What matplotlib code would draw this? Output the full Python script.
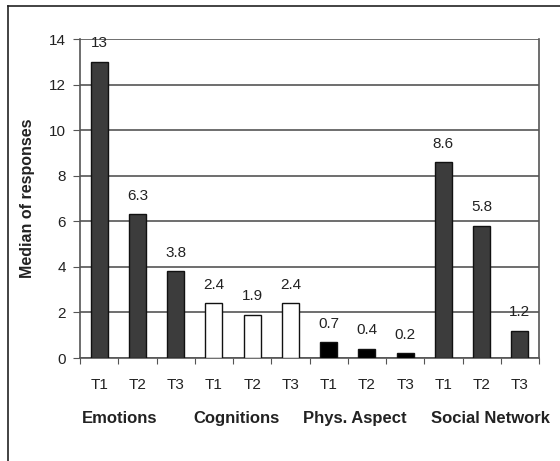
import matplotlib
matplotlib.use("Agg")
import matplotlib.pyplot as plt
from matplotlib.lines import Line2D

plt.rcParams['font.family'] = ['Liberation Sans', 'DejaVu Sans']

groups = ["Emotions", "Cognitions", "Phys. Aspect", "Social Network"]
times = ["T1", "T2", "T3"]
values = [13, 6.3, 3.8, 2.4, 1.9, 2.4, 0.7, 0.4, 0.2, 8.6, 5.8, 1.2]
value_labels = ["13", "6.3", "3.8", "2.4", "1.9", "2.4", "0.7", "0.4", "0.2", "8.6", "5.8", "1.2"]
face_colors = ["#3c3c3c"] * 3 + ["white"] * 3 + ["black"] * 3 + ["#3c3c3c"] * 3

fig = plt.figure(figsize=(5.6, 4.61), dpi=100)
W, H = 560, 461
# outer border: only top and left edges are visible in the cropped reference
fig.add_artist(Line2D([8 / W, 1.0], [1 - 6 / H, 1 - 6 / H], transform=fig.transFigure,
                      color="#222222", linewidth=1.2))
fig.add_artist(Line2D([8 / W, 8 / W], [0.0, 1 - 6 / H], transform=fig.transFigure,
                      color="#222222", linewidth=1.2))

ax = fig.add_axes([80 / W, 1 - 358 / H, (539 - 80) / W, (358 - 39) / H])
n = len(values)
x = list(range(n))
ax.bar(x, values, width=0.45, color=face_colors, edgecolor="#111111", linewidth=1.0, zorder=3)
ax.set_xlim(-0.5, n - 0.5)
ax.set_ylim(0, 14)
ax.set_yticks(range(0, 15, 2))
ax.yaxis.grid(True, color="#555555", linewidth=1.2, zorder=0)
ax.set_axisbelow(True)
for s in ["left", "right", "bottom"]:
    ax.spines[s].set_color("#555555")
    ax.spines[s].set_linewidth(1.2)
ax.spines["top"].set_visible(False)
ax.tick_params(axis='y', length=5, color="#555555", labelsize=11, pad=5, labelcolor="#222222")
ax.set_xticks([i - 0.5 for i in range(n + 1)])
ax.set_xticklabels([])
ax.tick_params(axis='x', length=4, color="#555555", direction="out")

for i, (v, lab) in enumerate(zip(values, value_labels)):
    ax.text(i, v + 0.5, lab, ha="center", va="bottom", fontsize=11, color="#222222")

for i in range(n):
    ax.text(i, -1.2, times[i % 3], ha="center", va="center", fontsize=11, color="#222222")

group_left_px = [82, 193, 303, 431]
for name, px in zip(groups, group_left_px):
    fig.text(px / W, 1 - 418 / H, name, ha="left", va="center", fontsize=12,
             fontweight="bold", color="#222222")

ax.set_ylabel("Median of responses", fontsize=11.5, fontweight="bold", labelpad=10, color="#222222")

fig.savefig("out.png", dpi=100)
